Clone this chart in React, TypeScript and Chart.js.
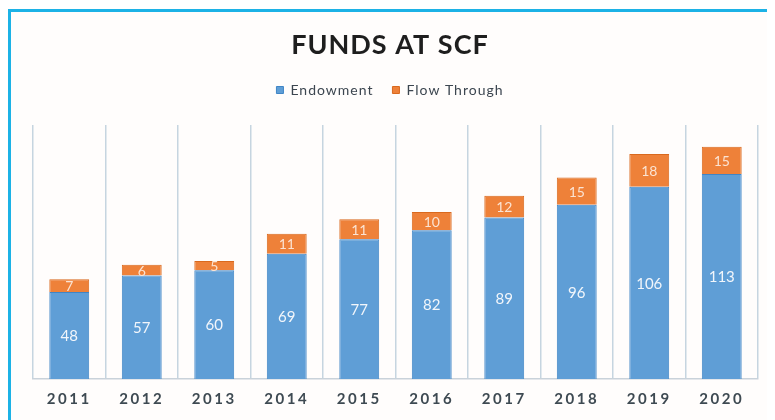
import React, { useEffect, useRef } from 'react';
import { Chart, registerables } from 'chart.js';

Chart.register(...registerables);

const titleText = 'FUNDS AT SCF';
const years = ['2011', '2012', '2013', '2014', '2015', '2016', '2017', '2018', '2019', '2020'];
const seriesNames = ['Endowment', 'Flow Through'];
const endowment = [48, 57, 60, 69, 77, 82, 89, 96, 106, 113];
const flowThrough = [7, 6, 5, 11, 11, 10, 12, 15, 18, 15];
const yMax = 140;

const FONT = 'Lato, "Open Sans", sans-serif';

const labelPlugin = {
  id: 'spacingAndLabels',
  beforeUpdate(chart: any) {
    chart.ctx.letterSpacing = '1px';
  },
  beforeDraw(chart: any) {
    chart.ctx.letterSpacing = '1px';
  },
  afterDatasetsDraw(chart: any) {
    const ctx = chart.ctx;
    ctx.save();
    ctx.letterSpacing = '0px';
    ctx.textAlign = 'center';
    ctx.textBaseline = 'middle';
    chart.data.datasets.forEach((ds: any, di: number) => {
      const meta = chart.getDatasetMeta(di);
      meta.data.forEach((el: any, i: number) => {
        const { x, y, base } = el.getProps(['x', 'y', 'base'], true);
        const v = ds.data[i];
        ctx.fillStyle = di === 0 ? '#f2f6fb' : '#fbe3d2';
        ctx.font = `${di === 0 ? 15 : 14}px ${FONT}`;
        ctx.fillText(String(v), x, (y + base) / 2 + 1);
      });
    });
    ctx.restore();
    ctx.letterSpacing = '2.5px';
  },
  afterDraw(chart: any) {
    chart.ctx.letterSpacing = '1px';
  },
};

const spacer = (position: string, size: number) => ({
  type: 'linear',
  position,
  display: true,
  min: 0,
  max: 1,
  grid: { display: false, drawTicks: false },
  border: { display: false },
  ticks: { display: false },
  afterFit: (s: any) => {
    if (position === 'top' || position === 'bottom') s.height = size;
    else s.width = size;
  },
});

export default function App() {
  const ref = useRef<HTMLCanvasElement | null>(null);

  useEffect(() => {
    if (!ref.current) return;
    const chart = new Chart(ref.current, {
      type: 'bar',
      data: {
        labels: years,
        datasets: [
          {
            label: seriesNames[0],
            data: endowment,
            xAxisID: 'x',
            yAxisID: 'y',
            backgroundColor: '#5f9ed6',
            borderColor: '#3f85c6',
            borderWidth: 1,
            categoryPercentage: 1,
            barPercentage: 0.55,
          },
          {
            label: seriesNames[1],
            data: flowThrough,
            xAxisID: 'x',
            yAxisID: 'y',
            backgroundColor: '#ee8139',
            borderColor: '#d9691e',
            borderWidth: 1,
            categoryPercentage: 1,
            barPercentage: 0.55,
          },
        ],
      },
      options: {
        responsive: false,
        animation: false,
        devicePixelRatio: 1,
        layout: { padding: { left: 11, right: 9, top: 0, bottom: 1 } },
        plugins: {
          title: {
            display: true,
            text: titleText,
            color: '#1e1e1e',
            font: { family: FONT, size: 27, weight: 'bold' },
            padding: { top: 17, bottom: 2.6 },
          },
          legend: {
            display: true,
            position: 'top',
            labels: {
              boxWidth: 7,
              boxHeight: 7,
              padding: 19,
              color: '#3c4650',
              font: { family: FONT, size: 14 },
            },
          },
          tooltip: { enabled: false },
        },
        scales: {
          x: {
            stacked: true,
            offset: true,
            grid: {
              display: true,
              offset: true,
              color: '#c6d5e0',
              lineWidth: 1.5,
              drawTicks: false,
            },
            border: { display: true, color: '#c9d2da', width: 1.5 },
            ticks: {
              z: 1,
              padding: 11,
              autoSkip: false,
              maxRotation: 0,
              color: '#3e4a52',
              font: { family: FONT, size: 15, weight: 'bold' },
            },
          },
          y: {
            stacked: true,
            display: false,
            min: 0,
            max: yMax,
          },
          spacerTop: spacer('top', 18) as any,
          spacerLeft: spacer('left', 11) as any,
        },
      },
      plugins: [labelPlugin],
    });
    return () => chart.destroy();
  }, []);

  return (
    <div
      style={{
        position: 'relative',
        top: 1,
        width: 762,
        height: 414,
        boxSizing: 'border-box',
        border: '3px solid #1cb2e6',
        background: '#fffdfc',
      }}
    >
      <canvas ref={ref} width={756} height={408} style={{ display: 'block' }} />
    </div>
  );
}
